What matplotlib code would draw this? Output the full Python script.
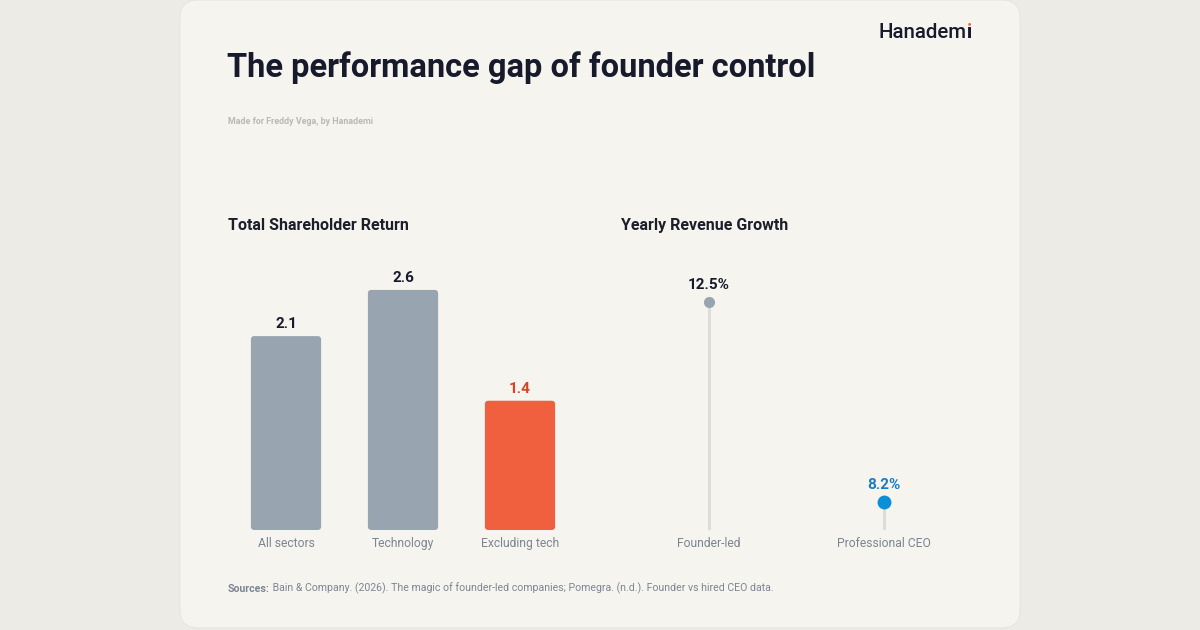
import matplotlib
matplotlib.use("Agg")
import matplotlib.pyplot as plt
from matplotlib.patches import FancyBboxPatch

# --- data ---
tsr_labels = ["All sectors", "Technology", "Excluding tech"]
tsr_values = [2.1, 2.6, 1.4]
tsr_highlight = [False, False, True]

growth_labels = ["Founder-led", "Professional CEO"]
growth_values = [12.5, 8.2]

W, H = 1200, 630
BG = "#ecebe6"
CARD = "#f5f4ef"
DARK = "#161a2b"
GRAY_BAR = "#99a4b1"
ORANGE = "#f0603f"
ORANGE_TXT = "#d84327"
BLUE = "#0b90d8"
BLUE_TXT = "#1b7bbd"
MUTED = "#7d8592"
STEM = "#dedcd8"

plt.rcParams["font.family"] = ["Roboto", "DejaVu Sans"]

fig = plt.figure(figsize=(W / 100, H / 100), dpi=100, facecolor=BG)


def fx(x):
    return x / W


def fy(y):
    return 1 - y / H


# card background
bg = fig.add_axes([0, 0, 1, 1], zorder=-1)
bg.set_xlim(0, W)
bg.set_ylim(H, 0)
bg.axis("off")
bg.add_patch(FancyBboxPatch((180, 0), 840, 628, boxstyle="round,pad=0,rounding_size=18",
                            facecolor=CARD, edgecolor="#e6e5e0", linewidth=0.8))

# logo: orange "i" underneath a dark dotless "ı" leaves only the dot orange
fig.text(fx(972), fy(32), "i", fontsize=14.8, fontweight="medium", color=ORANGE,
         ha="right", va="center")
for _ in range(3):  # overdraw so the orange stem edges don't bleed through
    i_txt = fig.text(fx(972), fy(32), "\u0131", fontsize=14.8, fontweight="medium",
                     color=DARK, ha="right", va="center")
bg.annotate("Hanadem", xy=(0, 0.5), xycoords=i_txt, ha="right", va="center",
            fontsize=14.8, fontweight="medium", color=DARK)

# titles
fig.text(fx(227), fy(68), "The performance gap of founder control", fontsize=23.5,
         fontweight="bold", color=DARK, ha="left", va="center")
fig.text(fx(228), fy(121), "Made for Freddy Vega, by Hanademi", fontsize=6.4,
         fontweight="bold", color="#b9b9b6", ha="left", va="center")
fig.text(fx(228), fy(225), "Total Shareholder Return", fontsize=11.5, fontweight="bold",
         color="#1c1f2a", ha="left", va="center")
fig.text(fx(621), fy(225), "Yearly Revenue Growth", fontsize=11.5, fontweight="bold",
         color="#1c1f2a", ha="left", va="center")

# sources
src = fig.text(fx(228), fy(589), "Sources:", fontsize=7.6, fontweight="bold",
               color=MUTED, ha="left", va="center")
bg.annotate(" Bain & Company. (2026). The magic of founder-led companies; Pomegra. (n.d.). "
            "Founder vs hired CEO data.", xy=(1, 0), xycoords=src, ha="left", va="bottom",
            fontsize=7.6, color=MUTED)

# --- bar chart ---
ax1 = fig.add_axes([227.5 / W, 100 / H, 351 / W, 277 / H])
ax1.set_facecolor("none")
x = list(range(len(tsr_values)))
bars = ax1.bar(x, tsr_values, width=0.6)
for b, hl, v in zip(bars, tsr_highlight, tsr_values):
    b.set_visible(False)
    col = ORANGE if hl else GRAY_BAR
    ax1.add_patch(FancyBboxPatch((b.get_x(), 0), b.get_width(), b.get_height(),
                                 boxstyle="round,pad=0,rounding_size=0.03",
                                 mutation_aspect=1.25, facecolor=col, edgecolor="none"))
    ax1.annotate(f"{v:.1f}", xy=(b.get_x() + b.get_width() / 2, v), xytext=(0, 8.6),
                 textcoords="offset points", ha="center", va="center", fontsize=11,
                 fontweight="bold", color=ORANGE_TXT if hl else DARK)
ax1.set_xlim(-0.5, 2.5)
ax1.set_ylim(0, 3.0)
ax1.set_xticks(x, tsr_labels)
ax1.set_yticks([])
ax1.tick_params(axis="x", length=0, pad=5, labelsize=8.7, labelcolor=MUTED)
for s in ax1.spines.values():
    s.set_visible(False)

# --- lollipop chart ---
ax2 = fig.add_axes([621.5 / W, 100 / H, 350 / W, 277 / H])
ax2.set_facecolor("none")
ymin = 7.6
gx = list(range(len(growth_values)))
dot_cols = [GRAY_BAR, BLUE]
lab_cols = [DARK, BLUE_TXT]
dot_sizes = [8, 10]
for xi, v, dc, lc, ms in zip(gx, growth_values, dot_cols, lab_cols, dot_sizes):
    ax2.vlines(xi, ymin, v, color=STEM, linewidth=2.2, zorder=1)
    ax2.plot(xi, v, "o", color=dc, markersize=ms, markeredgewidth=0, zorder=2)
    ax2.annotate(f"{v:.1f}%", xy=(xi, v), xytext=(0, 12),
                 textcoords="offset points", ha="center", va="center", fontsize=11,
                 fontweight="bold", color=lc)
ax2.set_xlim(-0.5, 1.5)
ax2.set_ylim(ymin, 13.55)
ax2.set_xticks(gx, growth_labels)
ax2.set_yticks([])
ax2.tick_params(axis="x", length=0, pad=5, labelsize=8.7, labelcolor=MUTED)
for s in ax2.spines.values():
    s.set_visible(False)

fig.savefig("out.png", dpi=100, facecolor=BG)
